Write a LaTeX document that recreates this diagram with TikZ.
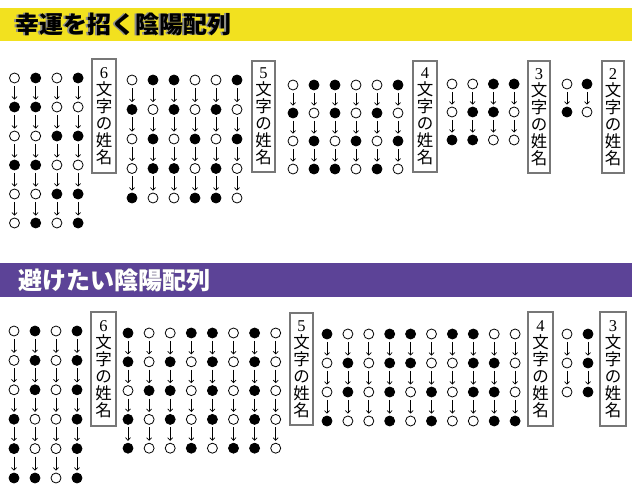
\documentclass[tikz,border=0pt]{standalone}
\usepackage{fontspec}
\setmainfont{Noto Sans CJK JP}
\newfontfamily\numfont{Liberation Serif}
\usetikzlibrary{arrows.meta}
\definecolor{bandyellow}{HTML}{F2E11F}
\definecolor{bandpurple}{HTML}{5C4397}
\definecolor{boxgray}{HTML}{777777}
\tikzset{
  bead/.style={circle,draw=black,line width=0.8pt,minimum size=10pt,inner sep=0pt,fill=white},
  b0/.style={bead},
  b1/.style={bead,fill=black},
  flow/.style={line width=0.7pt,-{Straight Barb[length=2.6pt,width=5pt,line width=0.7pt]},shorten <=2.5pt,shorten >=2pt},
  namebox/.style={draw=boxgray,line width=1.6pt,fill=white,inner sep=0pt,align=center,
    font=\fontsize{16.5}{17}\selectfont},
  title/.style={anchor=west,inner sep=0pt,font=\bfseries\fontsize{24}{24}\selectfont}
}
\newcommand\beadgroup[6]{%
  \foreach \colv [count=\i] in {#6} {
    \foreach \v [count=\j] in \colv {
      \pgfmathsetmacro\xx{#2+(\i-1)*#3}
      \pgfmathsetmacro\yy{-(#4+(\j-1)*#5)}
      \node[b\v] (#1-\i-\j) at (\xx,\yy) {};
      \ifnum\j>1
        \pgfmathtruncatemacro\jp{\j-1}
        \draw[flow] (#1-\i-\jp) -- (#1-\i-\j);
      \fi
    }
  }%
}
\begin{document}
\begin{tikzpicture}[x=1pt,y=1pt]
\useasboundingbox (0,0) rectangle (632,-500);
% bands
\fill[bandyellow] (0,-8) rectangle (632,-41);
\fill[bandpurple] (0,-263) rectangle (632,-297);
\node[title,text=black!45] (t1s) at (13.5,-24.5) {幸運を招く陰陽配列};
\node[title,text=black] (t1) at (15,-24) {幸運を招く陰陽配列};
\node[title,text=black!50] (t2s) at (18.8,-280.8) {避けたい陰陽配列};
\node[title,text=white] (t2) at (18,-280) {避けたい陰陽配列};

% ---- top section ----
\beadgroup{T6}{14.5}{21.2}{78}{29}{{0,1,0,1,0,0},{1,1,0,1,0,1},{0,0,1,0,1,0},{1,0,1,0,1,1}}
\beadgroup{T5}{132}{21}{80}{29.5}{{0,1,0,0,1},{1,0,1,1,0},{1,1,0,1,0},{0,0,1,0,1},{0,1,0,1,1},{1,0,1,0,0}}
\beadgroup{T4}{293}{21}{85}{28}{{0,1,0,0},{1,0,1,1},{1,1,0,1},{0,0,1,0},{0,1,0,1},{1,0,1,0}}
\beadgroup{T3}{452}{20.7}{84}{28}{{0,0,1},{0,1,1},{1,1,0},{1,0,0}}
\beadgroup{T2}{567}{20}{84}{28}{{0,1},{1,0}}

\node[namebox,minimum width=24pt,minimum height=114pt] (T6box) at (104,-116) {{\numfont 6}\\文\\字\\の\\姓\\名};
\node[namebox,minimum width=23pt,minimum height=111pt] (T5box) at (263.5,-116.5) {{\numfont 5}\\文\\字\\の\\姓\\名};
\node[namebox,minimum width=24pt,minimum height=111pt] (T4box) at (425,-116.5) {{\numfont 4}\\文\\字\\の\\姓\\名};
\node[namebox,minimum width=22pt,minimum height=112pt] (T3box) at (539,-117) {{\numfont 3}\\文\\字\\の\\姓\\名};
\node[namebox,minimum width=22pt,minimum height=112pt] (T2box) at (613,-117) {{\numfont 2}\\文\\字\\の\\姓\\名};

% ---- bottom section ----
\beadgroup{B6}{14}{21}{331}{29.4}{{0,0,0,1,1,1},{1,1,1,0,0,1},{0,0,0,0,0,0},{1,1,1,1,1,1}}
\beadgroup{B5}{128}{21.1}{333}{28.8}{{1,1,0,1,1},{0,0,1,0,0},{0,1,1,1,0},{1,0,0,0,1},{1,1,1,1,0},{0,0,0,0,1},{1,1,1,1,1},{0,0,0,0,0}}
\beadgroup{B4}{327}{20.9}{334}{29}{{1,0,0,1},{0,1,1,0},{0,0,0,0},{1,1,1,1},{1,1,0,0},{0,0,1,1},{1,0,0,0},{1,1,1,0},{0,1,1,1},{0,0,0,1}}
\beadgroup{B3}{567}{21}{334}{29}{{0,0,0},{1,1,1}}

\node[namebox,minimum width=25pt,minimum height=114pt] (B6box) at (103.5,-369) {{\numfont 6}\\文\\字\\の\\姓\\名};
\node[namebox,minimum width=23pt,minimum height=112pt] (B5box) at (301.5,-369) {{\numfont 5}\\文\\字\\の\\姓\\名};
\node[namebox,minimum width=25pt,minimum height=114pt] (B4box) at (540.5,-369) {{\numfont 4}\\文\\字\\の\\姓\\名};
\node[namebox,minimum width=26pt,minimum height=114pt] (B3box) at (613,-369) {{\numfont 3}\\文\\字\\の\\姓\\名};
\end{tikzpicture}
\end{document}
